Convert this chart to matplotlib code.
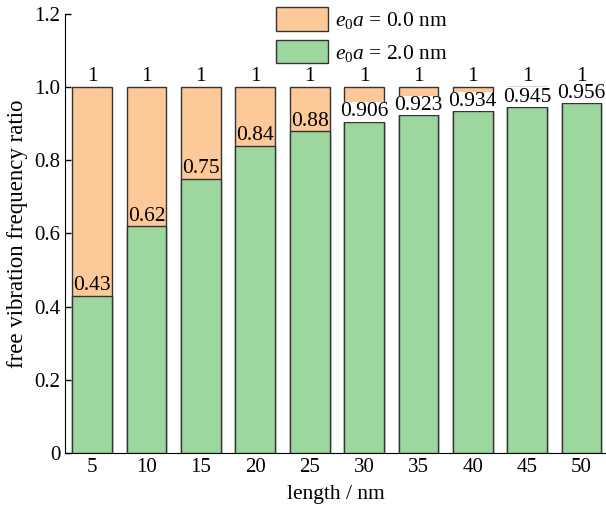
import matplotlib
matplotlib.use("Agg")
import matplotlib.pyplot as plt
import numpy as np

plt.rcParams['font.family'] = ['Liberation Serif', 'DejaVu Serif']
plt.rcParams['mathtext.fontset'] = 'custom'
plt.rcParams['mathtext.rm'] = 'Liberation Serif'
plt.rcParams['mathtext.it'] = 'Liberation Serif:italic'

lengths = [5, 10, 15, 20, 25, 30, 35, 40, 45, 50]
ratio_local = [1, 1, 1, 1, 1, 1, 1, 1, 1, 1]
ratio_nonlocal = [0.43, 0.62, 0.75, 0.84, 0.88, 0.906, 0.923, 0.934, 0.945, 0.956]
labels_nonlocal = ['0.43', '0.62', '0.75', '0.84', '0.88', '0.906', '0.923', '0.934', '0.945', '0.956']

orange = '#FDC998'
green = '#9ED79D'
edge = '#333333'

fig = plt.figure(figsize=(6.06, 5.11), dpi=100)
ax = fig.add_axes([65 / 606, 58 / 511, 1 - 65 / 606, 439 / 511])

x = np.arange(len(lengths))
w = 0.73
ax.bar(x, ratio_local, w, color=orange, edgecolor=edge, linewidth=1.0,
       label=r'$e_0a$ = 0.0 nm', zorder=2)
ax.bar(x, ratio_nonlocal, w, color=green, edgecolor=edge, linewidth=1.0,
       label=r'$e_0a$ = 2.0 nm', zorder=3)

for i in range(len(lengths)):
    ax.text(x[i], ratio_local[i] + 0.002, str(ratio_local[i]), ha='center', va='bottom',
            fontsize=15.5, zorder=5)
    bb = None
    if ratio_nonlocal[i] > 0.9:
        bb = dict(facecolor='white', edgecolor='none', pad=0.3)
    ax.text(x[i], ratio_nonlocal[i] + 0.001, labels_nonlocal[i], ha='center', va='bottom',
            fontsize=15.5, zorder=5, bbox=bb)

ax.set_xlim(-0.5, 9.45)
ax.set_ylim(0, 1.2)
ax.set_xticks(x)
ax.set_xticklabels([str(v) for v in lengths])
ax.set_yticks(np.arange(0, 1.21, 0.2))
ax.set_yticklabels(['0', '0.2', '0.4', '0.6', '0.8', '1.0', '1.2'])
ax.tick_params(direction='in', labelsize=15, length=4, width=1)
ax.spines['top'].set_visible(False)
ax.spines['right'].set_visible(False)
ax.set_xlabel('length / nm', fontsize=15.5, labelpad=6)
ax.set_ylabel('free vibration frequency ratio', fontsize=16.5, labelpad=4)

ax.legend(loc='upper left', bbox_to_anchor=(0.355, 1.06), frameon=False, fontsize=15.5,
          handlelength=2.4, handleheight=1.3, handletextpad=0.3, labelspacing=0.4)

fig.savefig('out.png', dpi=100)
